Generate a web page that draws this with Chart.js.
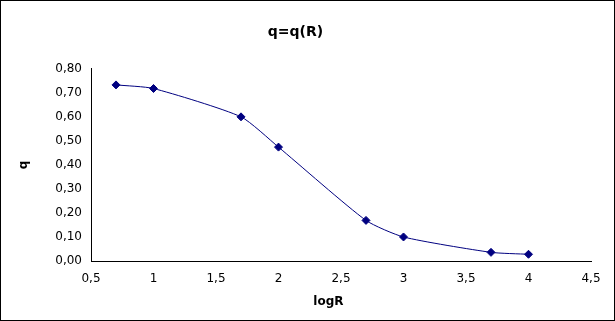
<!DOCTYPE html>
<html>
<head>
<meta charset="utf-8">
<script src="https://cdn.jsdelivr.net/npm/chart.js@4/dist/chart.umd.min.js"></script>
<style>
  html, body { margin: 0; padding: 0; background: #fff; }
  #wrap { width: 615px; height: 321px; }
</style>
</head>
<body>
<div id="wrap"><canvas id="myChart" width="615" height="321"></canvas></div>
<script>
'use strict'

let logR = [0.7, 1, 1.7, 2, 2.7, 3, 3.7, 4];
let qValues = [0.733, 0.718, 0.600, 0.474, 0.169, 0.100, 0.036, 0.028];
let xTicks = [0.5, 1, 1.5, 2, 2.5, 3, 3.5, 4, 4.5];
let yTicks = [0, 0.1, 0.2, 0.3, 0.4, 0.5, 0.6, 0.7, 0.8];

let points = [];
for (let i = 0; i < logR.length; i++) {
    points.push({ x: logR[i], y: qValues[i] });
}

// frame round the whole picture
let framePlugin = {
    id: 'frame',
    afterDraw(chart) {
        let c = chart.ctx;
        c.save();
        c.strokeStyle = '#000';
        c.lineWidth = 1;
        c.strokeRect(0.5, 0.5, chart.width - 1, chart.height - 1);
        c.restore();
    }
};

Chart.defaults.font.family = 'DejaVu Sans';
Chart.defaults.color = '#000';

var ctx = document.getElementById('myChart').getContext('2d');
var myChart = new Chart(ctx, {
    type: 'scatter',
    data: {
        datasets: [{
            data: points,
            showLine: true,
            tension: 0.2,
            borderColor: '#000080',
            borderWidth: 1,
            backgroundColor: '#000080',
            pointStyle: 'rectRot',
            pointRadius: 4,
            pointBorderWidth: 1,
            pointBorderColor: '#000080'
        }]
    },
    options: {
        responsive: false,
        animation: false,
        layout: { padding: { top: 0, right: 24, bottom: 12, left: 0 } },
        plugins: {
            legend: { display: false },
            tooltip: { enabled: false },
            title: {
                display: true,
                text: 'q=q(R)',
                font: { size: 14, weight: 'bold' },
                color: '#000',
                padding: { top: 24, bottom: 28 }
            }
        },
        scales: {
            x: {
                type: 'linear',
                min: 0.5,
                max: 4.5,
                afterBuildTicks: function (axis) {
                    axis.ticks = xTicks.map(v => ({ value: v }));
                },
                afterFit: function (axis) { axis.height = 48; },
                grid: { display: false, drawOnChartArea: false, drawTicks: true, tickLength: 5, tickColor: '#000' },
                border: { color: '#000', width: 1 },
                ticks: {
                    font: { size: 12 },
                    padding: 6,
                    maxRotation: 0,
                    callback: v => String(v).replace('.', ',')
                },
                title: { display: true, text: 'logR      ', font: { size: 12, weight: 'bold' }, padding: { top: 4, bottom: 0 } }
            },
            y: {
                type: 'linear',
                min: 0,
                max: 0.8,
                afterBuildTicks: function (axis) {
                    axis.ticks = yTicks.map(v => ({ value: v }));
                },
                afterFit: function (axis) { axis.width = 91; },
                grid: { display: false, drawOnChartArea: false, drawTicks: true, tickLength: 5, tickColor: '#000' },
                border: { color: '#000', width: 1 },
                ticks: {
                    font: { size: 12 },
                    padding: 4,
                    callback: v => v.toFixed(2).replace('.', ',')
                },
                title: { display: true, text: 'q', font: { size: 12, weight: 'bold' }, padding: { top: 17, bottom: 0 } }
            }
        }
    },
    plugins: [framePlugin]
});
</script>
</body>
</html>
